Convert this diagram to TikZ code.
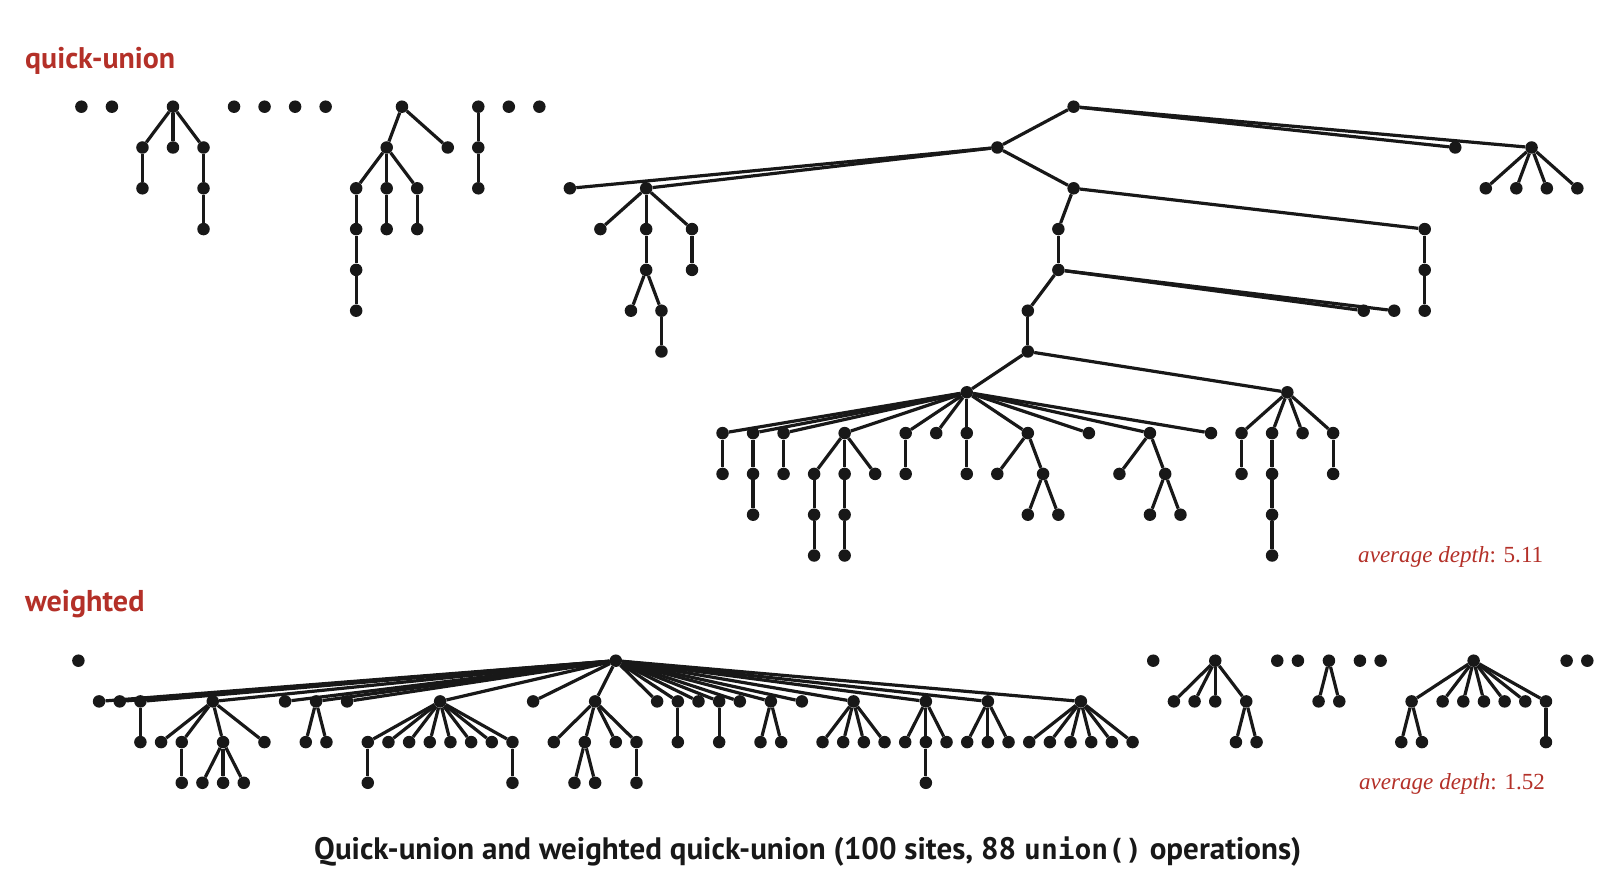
\documentclass[tikz,border=0pt]{standalone}
\usepackage{fontspec}
\usepackage{graphicx}
\newfontfamily\lblfont{PT Sans}[BoldFont={PT Sans Bold}]
\newfontfamily\monofnt{DejaVu Sans Mono}
\newfontfamily\avfont{Liberation Serif}
\definecolor{qred}{RGB}{180,48,40}
\definecolor{ink}{RGB}{24,24,24}
\newcommand\qn[3]{\node[dot] (#1) at ({81.4+30.53*#2},{106.7+40.8*#3}) {};}
\newcommand\wn[3]{\node[dot] (#1) at ({78.4+20.67*#2},{660.7+40.7*#3}) {};}
\begin{document}
\begin{tikzpicture}[x=1pt,y=-1pt,
  dot/.style={circle,fill=ink,draw=none,inner sep=0pt,minimum size=12.5pt},
  edge/.style={draw=ink,line width=3.2pt},
  lbl/.style={anchor=base west,inner sep=0pt,text=qred}]
\path[fill=white,use as bounding box] (0,0) rectangle (1610,882);

% ---------------- quick-union ----------------
\node[lbl] (lq) at (25,68.3) {\resizebox{150pt}{!}{\lblfont\bfseries quick-union}};
\qn{qa}{0}{0}\qn{qb}{1}{0}
\qn{A0}{3}{0}\qn{A1}{2}{1}\qn{A2}{3}{1}\qn{A3}{4}{1}\qn{A4}{2}{2}\qn{A5}{4}{2}\qn{A6}{4}{3}
\qn{qc}{5}{0}\qn{qd}{6}{0}\qn{qe}{7}{0}\qn{qf}{8}{0}
\qn{B0}{10.5}{0}\qn{B1}{10}{1}\qn{B2}{12}{1}\qn{B3}{9}{2}\qn{B4}{10}{2}\qn{B5}{11}{2}
\qn{B6}{9}{3}\qn{B7}{9}{4}\qn{B8}{9}{5}\qn{B9}{10}{3}\qn{B10}{11}{3}
\qn{C0}{13}{0}\qn{C1}{13}{1}\qn{C2}{13}{2}
\qn{qg}{14}{0}\qn{qh}{15}{0}
% big tree
\qn{T0}{32.5}{0}
\qn{T1}{30}{1}\qn{T2}{45}{1}\qn{T3}{47.5}{1}
\qn{T4}{46}{2}\qn{T5}{47}{2}\qn{T6}{48}{2}\qn{T7}{49}{2}
\qn{T8}{16}{2}\qn{T9}{18.5}{2}\qn{T10}{32.5}{2}
\qn{T11}{17}{3}\qn{T12}{18.5}{3}\qn{T13}{20}{3}
\qn{T14}{18.5}{4}\qn{T15}{20}{4}
\qn{T16}{18}{5}\qn{T17}{19}{5}\qn{T18}{19}{6}
\qn{T19}{32}{3}\qn{T20}{44}{3}\qn{T21}{32}{4}\qn{T22}{44}{4}\qn{T23}{44}{5}
\qn{T24}{31}{5}\qn{T25}{42}{5}\qn{T26}{43}{5}
\qn{T27}{31}{6}
\qn{T28}{29}{7}\qn{T29}{39.5}{7}
\qn{U1}{21}{8}\qn{U2}{22}{8}\qn{U3}{23}{8}\qn{U4}{25}{8}\qn{U5}{27}{8}\qn{U6}{28}{8}
\qn{U7}{29}{8}\qn{U8}{31}{8}\qn{U9}{33}{8}\qn{U10}{35}{8}\qn{U11}{37}{8}
\qn{V1}{38}{8}\qn{V2}{39}{8}\qn{V3}{40}{8}\qn{V4}{41}{8}
\qn{W1}{21}{9}\qn{W2}{22}{9}\qn{W3}{23}{9}\qn{W4}{24}{9}\qn{W5}{25}{9}\qn{W6}{26}{9}
\qn{W7}{27}{9}\qn{W8}{29}{9}\qn{W9}{30}{9}\qn{W10}{31.5}{9}\qn{W11}{34}{9}\qn{W12}{35.5}{9}
\qn{W13}{38}{9}\qn{W14}{39}{9}\qn{W15}{41}{9}
\qn{X1}{22}{10}\qn{X2}{24}{10}\qn{X3}{25}{10}\qn{X4}{31}{10}\qn{X5}{32}{10}
\qn{X6}{35}{10}\qn{X7}{36}{10}\qn{X8}{39}{10}
\qn{Y1}{24}{11}\qn{Y2}{25}{11}\qn{Y3}{39}{11}

\foreach \a/\b in {A0/A1,A0/A2,A0/A3,A1/A4,A3/A5,A5/A6,
  B0/B1,B0/B2,B1/B3,B1/B4,B1/B5,B3/B6,B6/B7,B7/B8,B4/B9,B5/B10,
  C0/C1,C1/C2,
  T0/T1,T0/T2,T0/T3,T3/T4,T3/T5,T3/T6,T3/T7,
  T1/T8,T1/T9,T1/T10,T9/T11,T9/T12,T9/T13,T12/T14,T13/T15,T14/T16,T14/T17,T17/T18,
  T10/T19,T10/T20,T19/T21,T20/T22,T22/T23,T21/T24,T21/T25,T21/T26,T24/T27,
  T27/T28,T27/T29,
  T28/U1,T28/U2,T28/U3,T28/U4,T28/U5,T28/U6,T28/U7,T28/U8,T28/U9,T28/U10,T28/U11,
  T29/V1,T29/V2,T29/V3,T29/V4,
  U1/W1,U2/W2,U3/W3,U4/W4,U4/W5,U4/W6,U5/W7,U7/W8,U8/W9,U8/W10,U10/W11,U10/W12,
  V1/W13,V2/W14,V4/W15,
  W2/X1,W4/X2,W5/X3,W10/X4,W10/X5,W12/X6,W12/X7,W14/X8,
  X2/Y1,X3/Y2,X8/Y3}
  \draw[edge] (\a) -- (\b);

\node[lbl] (ad1) at (1358,562.3) {\resizebox{185pt}{!}{\avfont\itshape average depth\upshape: 5.11}};

% ---------------- weighted ----------------
\node[lbl] (lw) at (25,611) {\resizebox{119.3pt}{!}{\lblfont\bfseries weighted}};
\wn{w0}{0}{0}
\wn{R}{26}{0}
\wn{P1}{1}{1}\wn{P2}{2}{1}\wn{P3}{3}{1}\wn{P4}{6.5}{1}\wn{P5}{10}{1}\wn{P6}{11.5}{1}
\wn{P7}{13}{1}\wn{P8}{17.5}{1}\wn{P9}{22}{1}\wn{P10}{25}{1}\wn{P11}{28}{1}\wn{P12}{29}{1}
\wn{P13}{30}{1}\wn{P14}{31}{1}\wn{P15}{32}{1}\wn{P16}{33.5}{1}\wn{P17}{35}{1}
\wn{P18}{37.5}{1}\wn{P19}{41}{1}\wn{P20}{44}{1}\wn{P21}{48.5}{1}
\wn{Q1}{3}{2}\wn{Q2}{4}{2}\wn{Q3}{5}{2}\wn{Q4}{7}{2}\wn{Q5}{9}{2}\wn{Q6}{11}{2}\wn{Q7}{12}{2}
\wn{Q8}{14}{2}\wn{Q9}{15}{2}\wn{Q10}{16}{2}\wn{Q11}{17}{2}\wn{Q12}{18}{2}\wn{Q13}{19}{2}
\wn{Q14}{20}{2}\wn{Q15}{21}{2}
\wn{Q16}{23}{2}\wn{Q17}{24.5}{2}\wn{Q18}{26}{2}\wn{Q19}{27}{2}
\wn{Q20}{29}{2}\wn{Q21}{31}{2}\wn{Q22}{33}{2}\wn{Q23}{34}{2}
\wn{Q24}{36}{2}\wn{Q25}{37}{2}\wn{Q26}{38}{2}\wn{Q27}{39}{2}
\wn{Q28}{40}{2}\wn{Q29}{41}{2}\wn{Q30}{42}{2}
\wn{Q31}{43}{2}\wn{Q32}{44}{2}\wn{Q33}{45}{2}
\wn{Q34}{46}{2}\wn{Q35}{47}{2}\wn{Q36}{48}{2}\wn{Q37}{49}{2}\wn{Q38}{50}{2}\wn{Q39}{51}{2}
\wn{S1}{5}{3}\wn{S2}{6}{3}\wn{S3}{7}{3}\wn{S4}{8}{3}\wn{S5}{14}{3}\wn{S6}{21}{3}
\wn{S7}{24}{3}\wn{S8}{25}{3}\wn{S9}{27}{3}\wn{S10}{41}{3}
\wn{w1}{52}{0}
\wn{Z0}{55}{0}\wn{Z1}{53}{1}\wn{Z2}{54}{1}\wn{Z3}{55}{1}\wn{Z4}{56.5}{1}\wn{Z5}{56}{2}\wn{Z6}{57}{2}
\wn{w2}{58}{0}\wn{w3}{59}{0}
\wn{G0}{60.5}{0}\wn{G1}{60}{1}\wn{G2}{61}{1}
\wn{w4}{62}{0}\wn{w5}{63}{0}
\wn{H0}{67.5}{0}\wn{H1}{64.5}{1}\wn{H2}{66}{1}\wn{H3}{67}{1}\wn{H4}{68}{1}\wn{H5}{69}{1}
\wn{H6}{70}{1}\wn{H7}{71}{1}\wn{H8}{64}{2}\wn{H9}{65}{2}\wn{H10}{71}{2}
\wn{w6}{72}{0}\wn{w7}{73}{0}

\foreach \b in {P1,P2,P3,P4,P5,P6,P7,P8,P9,P10,P11,P12,P13,P14,P15,P16,P17,P18,P19,P20,P21}
  \draw[edge] (R) -- (\b);
\foreach \a/\b in {P3/Q1,P4/Q2,P4/Q3,P4/Q4,P4/Q5,P6/Q6,P6/Q7,
  P8/Q8,P8/Q9,P8/Q10,P8/Q11,P8/Q12,P8/Q13,P8/Q14,P8/Q15,
  P10/Q16,P10/Q17,P10/Q18,P10/Q19,P12/Q20,P14/Q21,P16/Q22,P16/Q23,
  P18/Q24,P18/Q25,P18/Q26,P18/Q27,P19/Q28,P19/Q29,P19/Q30,
  P20/Q31,P20/Q32,P20/Q33,
  P21/Q34,P21/Q35,P21/Q36,P21/Q37,P21/Q38,P21/Q39,
  Q3/S1,Q4/S2,Q4/S3,Q4/S4,Q8/S5,Q15/S6,Q17/S7,Q17/S8,Q19/S9,Q29/S10,
  Z0/Z1,Z0/Z2,Z0/Z3,Z0/Z4,Z4/Z5,Z4/Z6,G0/G1,G0/G2,
  H0/H1,H0/H2,H0/H3,H0/H4,H0/H5,H0/H6,H0/H7,H1/H8,H1/H9,H7/H10}
  \draw[edge] (\a) -- (\b);

\node[lbl] (ad2) at (1359,789) {\resizebox{185.7pt}{!}{\avfont\itshape average depth\upshape: 1.52}};

% ---------------- caption ----------------
\node[anchor=base west,inner sep=0pt,text=ink] (cap) at (314,859.3)
  {\resizebox{987pt}{!}{\lblfont\bfseries Quick-union and weighted quick-union (100 sites, 88 {\monofnt\small union()} operations)}};
\end{tikzpicture}
\end{document}
